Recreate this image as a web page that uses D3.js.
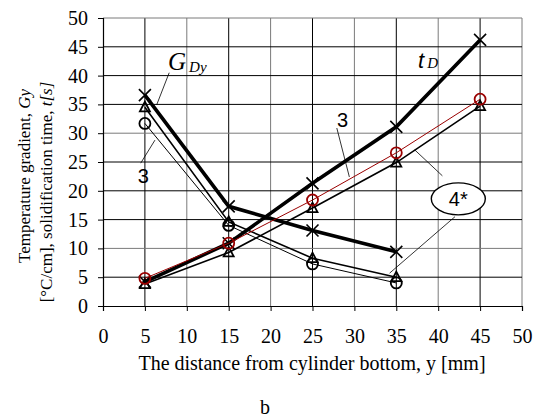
<!DOCTYPE html>
<html>
<head>
<meta charset="utf-8">
<script src="https://cdn.jsdelivr.net/npm/d3@7"></script>
<style>
  body { margin: 0; background: #fff; }
  svg { display: block; }
</style>
</head>
<body>
<svg id="chart"></svg>
<script>
// Distances from the cylinder bottom, y [mm]
var distGrad = [5, 15, 25, 35];
var distTime = [5, 15, 25, 35, 45];

// Temperature gradient curves
var gradD = [36.6, 17.3, 13.1, 9.4];      // G_Dy, thick with crosses
var grad3 = [31.7, 14.0, 7.3, 4.0];       // 3, thin with circles
var grad4 = [34.5, 14.6, 8.3, 5.0];       // 4*, with triangles

// Solidification time curves
var timeD = [4.2, 10.9, 21.3, 31.1, 46.2]; // t_D, thick with crosses
var time3 = [4.8, 10.9, 18.4, 26.6, 35.9]; // 3, red with circles
var time4 = [3.8, 9.3, 17.0, 24.9, 34.7];  // 4*, with triangles

var tickVals = [0, 5, 10, 15, 20, 25, 30, 35, 40, 45, 50];

var width = 538, height = 418;
var serif = "'Liberation Serif', 'Times New Roman', serif";
var sans = "'Liberation Sans', Arial, sans-serif";

var svg = d3.select("#chart")
  .attr("width", width)
  .attr("height", height);

var x = d3.scaleLinear().domain([0, 50]).range([103, 522]);
var y = d3.scaleLinear().domain([0, 50]).range([306, 18]);

// grid
var grid = svg.append("g").attr("stroke-width", 1);
grid.selectAll(".vg")
  .data(tickVals.slice(1))
  .enter().append("line")
  .attr("x1", function(d) { return x(d); })
  .attr("x2", function(d) { return x(d); })
  .attr("y1", y(0)).attr("y2", y(50))
  .attr("stroke", function(d) { return d % 10 === 0 ? "#7a7a7a" : "#000"; });
grid.selectAll(".hg")
  .data(tickVals.slice(1))
  .enter().append("line")
  .attr("y1", function(d) { return y(d); })
  .attr("y2", function(d) { return y(d); })
  .attr("x1", x(0)).attr("x2", x(50))
  .attr("stroke", function(d) { return (d === 10 || d === 30 || d === 50) ? "#7a7a7a" : "#000"; });

// axes
var xAxis = svg.append("g")
  .attr("transform", "translate(0," + y(0) + ")")
  .call(d3.axisBottom(x).tickValues(tickVals).tickSize(5).tickPadding(18));
var yAxis = svg.append("g")
  .attr("transform", "translate(" + x(0) + ",0)")
  .call(d3.axisLeft(y).tickValues(tickVals).tickSize(5).tickPadding(10));

[xAxis, yAxis].forEach(function(a) {
  a.attr("font-family", serif).attr("font-size", 20);
  a.select(".domain").attr("stroke", "#000").attr("stroke-width", 1.2);
  a.selectAll(".tick line").attr("stroke", "#000");
  a.selectAll("text").attr("fill", "#000");
});

// axis titles
svg.append("text")
  .attr("x", 312).attr("y", 370)
  .attr("text-anchor", "middle")
  .style("font-family", serif).style("font-size", "20px")
  .text("The distance from cylinder bottom, y [mm]");

var yt1 = svg.append("text")
  .attr("transform", "translate(30,176) rotate(-90)")
  .attr("text-anchor", "middle")
  .style("font-family", serif).style("font-size", "17px");
yt1.append("tspan").text("Temperature gradient, ");
yt1.append("tspan").style("font-style", "italic").text("Gy");

var yt2 = svg.append("text")
  .attr("transform", "translate(52,192) rotate(-90)")
  .attr("text-anchor", "middle")
  .style("font-family", serif).style("font-size", "17px");
yt2.append("tspan").text("[°C/cm], solidification time, ");
yt2.append("tspan").style("font-style", "italic").text("t[s]");

svg.append("text")
  .attr("x", 265).attr("y", 414)
  .attr("text-anchor", "middle")
  .style("font-family", serif).style("font-size", "20px")
  .text("b");

// series
var series = [
  { xs: distGrad, ys: grad3, color: "#000", width: 1, marker: "circle" },
  { xs: distGrad, ys: grad4, color: "#000", width: 1.6, marker: "triangle" },
  { xs: distGrad, ys: gradD, color: "#000", width: 3.6, marker: "cross" },
  { xs: distTime, ys: time4, color: "#000", width: 1.6, marker: "triangle" },
  { xs: distTime, ys: timeD, color: "#000", width: 3.6, marker: "cross" },
  { xs: distTime, ys: time3, color: "#9a0000", width: 1, marker: "circle" }
];

var line = d3.line()
  .x(function(d) { return x(d[0]); })
  .y(function(d) { return y(d[1]); });

function markerPath(type) {
  if (type === "cross") return "M-6,-6L6,6M-6,6L6,-6";
  if (type === "triangle") return "M0,-5.5L5,4L-5,4Z";
  return "";
}

series.forEach(function(s) {
  var pts = s.xs.map(function(v, i) { return [v, s.ys[i]]; });
  var g = svg.append("g");
  g.append("path")
    .attr("d", line(pts))
    .attr("fill", "none")
    .attr("stroke", s.color)
    .attr("stroke-width", s.width);
  var m = g.selectAll(".m").data(pts).enter();
  if (s.marker === "circle") {
    m.append("circle")
      .attr("cx", function(d) { return x(d[0]); })
      .attr("cy", function(d) { return y(d[1]); })
      .attr("r", 5.5)
      .attr("fill", "none")
      .attr("stroke", s.color)
      .attr("stroke-width", 1.8);
  } else {
    m.append("path")
      .attr("transform", function(d) { return "translate(" + x(d[0]) + "," + y(d[1]) + ")"; })
      .attr("d", markerPath(s.marker))
      .attr("fill", "none")
      .attr("stroke", "#000")
      .attr("stroke-width", s.marker === "cross" ? 1.6 : 1.8);
  }
});

// annotations
var leaders = [
  [[7.9, 40.5], [6.4, 34.9]],
  [[4.5, 24.8], [6.2, 28.8]],
  [[27.9, 30.9], [29.4, 22.4]],
  [[37.2, 27.1], [40.5, 22.6]],
  [[42.0, 15.5], [34.2, 5.7]]
];
svg.selectAll(".leader")
  .data(leaders)
  .enter().append("path")
  .attr("d", function(d) { return line(d); })
  .attr("stroke", "#000")
  .attr("stroke-width", 0.8)
  .attr("fill", "none");

svg.append("ellipse")
  .attr("cx", x(42.4)).attr("cy", y(18.6))
  .attr("rx", 27).attr("ry", 16)
  .attr("fill", "#fff")
  .attr("stroke", "#000")
  .attr("stroke-width", 1.4);

svg.append("text")
  .attr("x", x(42.4)).attr("y", y(18.6) + 7)
  .attr("text-anchor", "middle")
  .style("font-family", sans).style("font-size", "20px")
  .text("4*");

svg.append("text")
  .attr("x", x(4.8)).attr("y", y(21.4))
  .attr("text-anchor", "middle")
  .style("font-family", sans).style("font-size", "20px")
  .text("3");

svg.append("text")
  .attr("x", x(28.6)).attr("y", y(31.1))
  .attr("text-anchor", "middle")
  .style("font-family", sans).style("font-size", "20px")
  .text("3");

var gl = svg.append("text")
  .attr("x", x(7.76)).attr("y", y(41))
  .style("font-family", serif).style("font-style", "italic");
gl.append("tspan").style("font-size", "25px").text("G");
gl.append("tspan").attr("dx", 3).attr("dy", 2).style("font-size", "15px").text("Dy");

var tl = svg.append("text")
  .attr("x", x(37.6)).attr("y", y(41.3))
  .style("font-style", "italic");
tl.append("tspan").style("font-family", sans).style("font-size", "22px").text("t");
tl.append("tspan").attr("dx", 3).style("font-family", serif).style("font-size", "15px").text("D");
</script>
</body>
</html>
